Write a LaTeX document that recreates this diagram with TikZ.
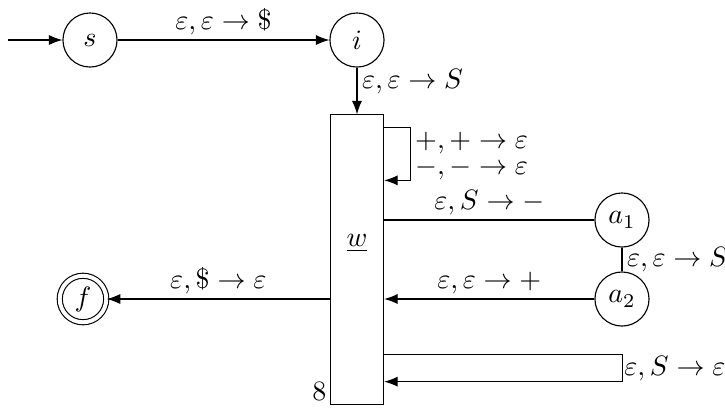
\documentclass[tikz,border=0pt]{standalone}
\usetikzlibrary{arrows.meta,calc}
\begin{document}
\begin{tikzpicture}[x=0.01254cm,y=-0.01254cm,>=Latex,
    every node/.style={inner sep=1.6pt},
    state/.style={circle,draw,minimum size=19.3pt,inner sep=0pt},
    accepting/.style={circle,draw,double,double distance=1.4pt,minimum size=16.6pt,inner sep=0pt},
    stack/.style={draw,minimum width=19pt,minimum height=103.2pt,inner sep=0pt}]
    \useasboundingbox (0,0) rectangle (725,409);
    % states
    \node[state] (s) at (90,40) {$s$};
    \node[state] (i) at (357,40) {$i$};
    \node[stack] (w) at (357,259.5) {};
    \node (wlab) at (357,243) {$\underline{w}$};
    \node[anchor=south east,inner sep=1pt] (eight) at (w.south west) {8};
    \node[state] (a1) at (622,220) {$a_1$};
    \node[state] (a2) at (622,299) {$a_2$};
    \node[accepting] (f) at (83,299) {$f$};
    \coordinate (start) at (8,40);
    % transitions
    \draw[->] (start) -- (s);
    \draw[->] (s) -- node[above] {$\varepsilon,\varepsilon\to\$$} (i);
    \draw[->] (i) -- node[right,pos=.3] {$\varepsilon,\varepsilon\to S$} (w);
    \draw[->] ($(w.north east)+(0,13)$) -- ++(26,0)
        -- node[right,inner ysep=0pt,pos=.3] {$+,+\to\varepsilon$} node[right,inner ysep=0pt,pos=.78] {$-,-\to\varepsilon$} ++(0,53)
        -- ++(-26,0);
    \draw (w.east |- a1) -- node[above] {$\varepsilon,S\to -$} (a1);
    \draw (a1) -- node[right] {$\varepsilon,\varepsilon\to S$} (a2);
    \draw[->] (a2) -- node[above] {$\varepsilon,\varepsilon\to +$} (w.east |- a2);
    \draw[->] (w.west |- f) -- node[above] {$\varepsilon,\$\to\varepsilon$} (f);
    \draw[->] ($(w.south east)+(0,-50)$) -- ++(238,0)
        -- node[right,inner xsep=0.6pt] {$\varepsilon,S\to\varepsilon$} ++(0,27)
        -- ++(-238,0);
\end{tikzpicture}
\end{document}
